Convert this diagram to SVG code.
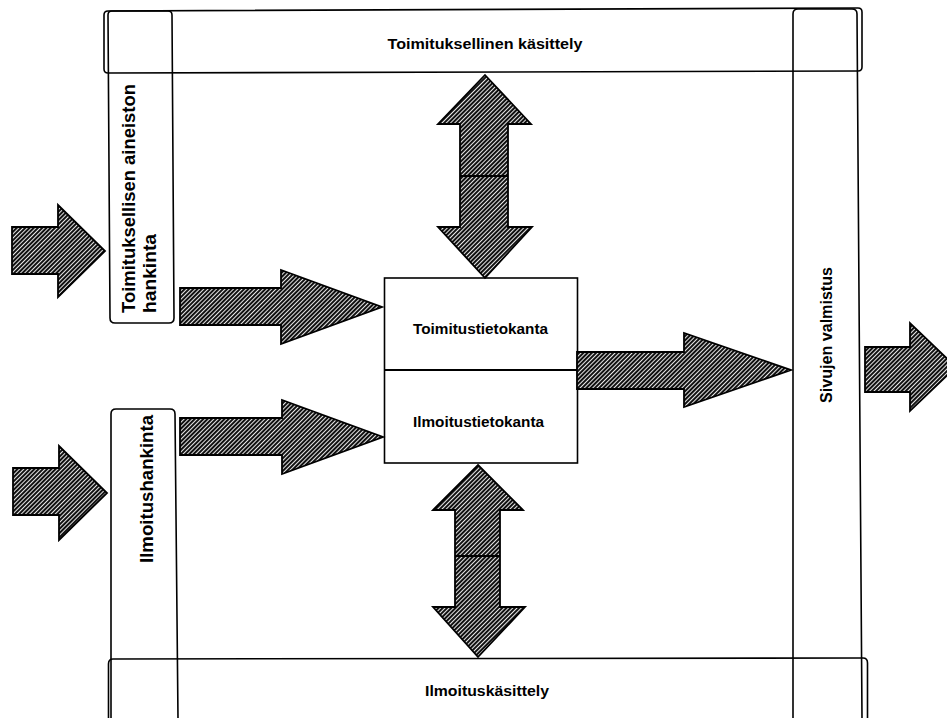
<svg xmlns="http://www.w3.org/2000/svg" width="947" height="718" viewBox="0 0 947 718">
  <defs>
    <!-- dense diagonal hatching used for all arrow bodies -->
    <pattern id="hatch" width="3" height="3" patternUnits="userSpaceOnUse" patternTransform="rotate(45)">
      <rect width="3" height="3" fill="#111"/>
      <rect x="0" y="0" width="0.9" height="3" fill="#fff"/>
    </pattern>
  </defs>
  <style>
    .frame { fill: none; stroke: #000; stroke-width: 1.6; }
    .box { fill: #fff; stroke: #000; stroke-width: 1.6; }
    .arrow { fill: url(#hatch); stroke: #000; stroke-width: 1.8; stroke-linejoin: miter; }
    .divider { stroke: #000; stroke-width: 1.8; }
    .lbl { font-family: "Liberation Sans", Arial, sans-serif; font-weight: bold; fill: #000; }
  </style>

  <rect width="947" height="718" fill="#fff"/>

  <!-- top band: editorial processing -->
  <g id="toimituksellinen-kasittely">
    <path class="frame" d="M108,11 L858,8 Q862,8 862,12 L862,67 Q862,71 858,71 L108,73 Q104,73 104,69 L104,15 Q104,11 108,11 Z"/>
    <text class="lbl" x="485" y="49" font-size="15.5" text-anchor="middle" textLength="195" lengthAdjust="spacingAndGlyphs">Toimituksellinen käsittely</text>
  </g>

  <!-- left column, upper: editorial material acquisition -->
  <g id="toimituksellisen-aineiston-hankinta">
    <path class="frame" d="M112,11 L168,11 Q172,11 172,15 L174,318 Q174,323 169,323 L115,323 Q110,323 110,318 L108,15 Q108,11 112,11 Z"/>
    <text class="lbl" font-size="18" transform="translate(135,313) rotate(-90)" textLength="229" lengthAdjust="spacingAndGlyphs">Toimituksellisen aineiston</text>
    <text class="lbl" font-size="18" transform="translate(156,313) rotate(-90)" textLength="79" lengthAdjust="spacingAndGlyphs">hankinta</text>
  </g>

  <!-- left column, lower: advertisement acquisition -->
  <g id="ilmoitushankinta">
    <path class="frame" d="M111,718 L111,414 Q111,409 116,409 L170,409 Q175,409 175,414 L178,718"/>
    <text class="lbl" font-size="18" text-anchor="middle" transform="translate(153,489) rotate(-90)" textLength="148" lengthAdjust="spacingAndGlyphs">Ilmoitushankinta</text>
  </g>

  <!-- right column: page production -->
  <g id="sivujen-valmistus">
    <path class="frame" d="M793,718 L793,14 Q793,9 798,9 L852,9 Q857,9 857,14 L862,718"/>
    <text class="lbl" font-size="16.5" text-anchor="middle" transform="translate(832,335) rotate(-90)" textLength="136" lengthAdjust="spacingAndGlyphs">Sivujen valmistus</text>
  </g>

  <!-- bottom band: advertisement processing -->
  <g id="ilmoituskasittely">
    <path class="frame" d="M108.5,718 L108.5,664 Q108.5,659 113,659 L863,658 Q867.5,658 867.5,663 L867.5,718"/>
    <text class="lbl" x="487" y="696" font-size="15" text-anchor="middle" textLength="124" lengthAdjust="spacingAndGlyphs">Ilmoituskäsittely</text>
  </g>

  <!-- central databases -->
  <g id="tietokannat">
    <rect class="box" x="384.5" y="278" width="193" height="185"/>
    <line class="divider" x1="384.5" y1="370" x2="577.5" y2="370"/>
    <text class="lbl" x="480.5" y="334" font-size="14" text-anchor="middle" textLength="135" lengthAdjust="spacingAndGlyphs">Toimitustietokanta</text>
    <text class="lbl" x="478.5" y="427" font-size="14" text-anchor="middle" textLength="131" lengthAdjust="spacingAndGlyphs">Ilmoitustietokanta</text>
  </g>

  <!-- flow arrows -->
  <g id="connectors">
    <polygon class="arrow" points="12,227 58,227 58,205 105,251 58,297 58,274 12,274"/>
    <polygon class="arrow" points="13,468 59,468 59,446 107,493 59,540 59,515 13,515"/>
    <polygon class="arrow" points="180,288 281,288 281,270 382,307 281,344 281,325 180,325"/>
    <polygon class="arrow" points="180,418 282,418 282,400 383,437 282,474 282,455 180,455"/>
    <polygon class="arrow" points="577,352 684,352 684,333 791,370 684,407 684,389 577,389"/>
    <polygon class="arrow" points="865,347 910,347 910,323 956,367 910,411 910,392 865,392"/>
    <polygon class="arrow" points="485,75 531,124 508,124 508,227 532,227 485,278 438,227 460,227 460,124 438,124"/>
    <line class="divider" x1="460" y1="176" x2="508" y2="176"/>
    <polygon class="arrow" points="478,465 523,510 500,510 500,607 525,607 478,657 433,607 455,607 455,510 433,510"/>
    <line class="divider" x1="455" y1="556" x2="500" y2="556"/>
  </g>
</svg>
